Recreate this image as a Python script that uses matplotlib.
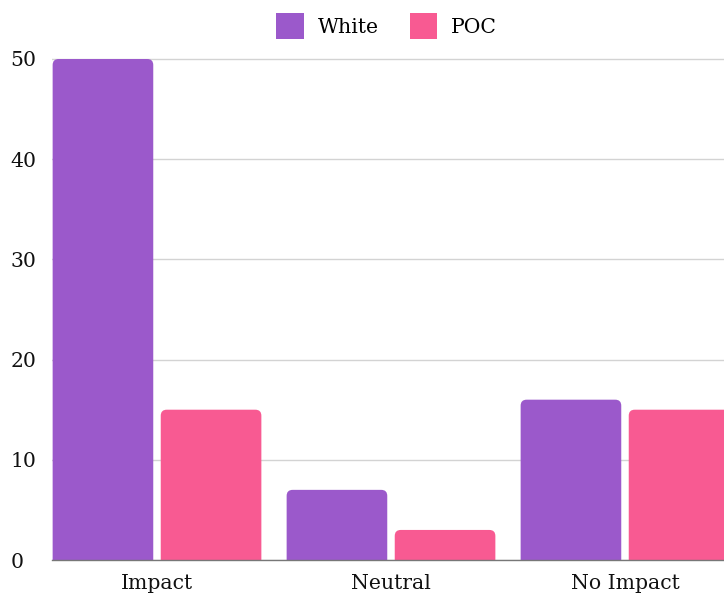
import matplotlib
matplotlib.use("Agg")
import matplotlib.pyplot as plt
from matplotlib.patches import FancyBboxPatch, Patch
import numpy as np

categories = ["Impact", "Neutral", "No Impact"]
white = [50, 7, 16]
poc = [15, 3, 15]
series_names = ["White", "POC"]
colors = ["#9b59cb", "#f85a92"]
yticks = [0, 10, 20, 30, 40, 50]

plt.rcParams['font.family'] = ['DejaVu Serif']

W, H = 724, 595
fig = plt.figure(figsize=(W / 100, H / 100), dpi=100)
left_px, right_px, bottom_px, top_px = 52, 724, 560, 58
ax = fig.add_axes([left_px / W, 1 - bottom_px / H, (right_px - left_px) / W, (bottom_px - top_px) / H])

px_per_x = 234.0
x_lo = (left_px - 157) / px_per_x
x_hi = (right_px - 157) / px_per_x
ymax = 50 * (bottom_px - top_px) / (bottom_px - 59)
ax.set_xlim(x_lo, x_hi)
ax.set_ylim(0, ymax)
px_per_y = (bottom_px - top_px) / ymax

x = np.arange(len(categories))
width = 0.43
offset = 0.231
radius_px = 6
r = radius_px / px_per_x
aspect = px_per_x / px_per_y

for vals, off, col in [(white, -offset, colors[0]), (poc, offset, colors[1])]:
    for xi, v in zip(x, vals):
        p = FancyBboxPatch((xi + off - width / 2, -2), width, v + 2,
                           boxstyle=f"round,pad=0,rounding_size={r}",
                           mutation_aspect=aspect, facecolor=col, edgecolor="none",
                           zorder=3)
        ax.add_patch(p)

fs = 14.7
ax.set_yticks(yticks)
ax.set_yticklabels([str(t) for t in yticks])
ax.yaxis.grid(True, color="#d3d3d3", linewidth=1, zorder=0)
ax.set_axisbelow(True)
ax.set_xticks(x)
ax.set_xticklabels(categories)
ax.tick_params(axis="both", length=0, labelsize=fs, colors="#111111")
ax.tick_params(axis="x", pad=10)
ax.tick_params(axis="y", pad=30)
for lab in ax.get_yticklabels():
    lab.set_ha("left")
for s in ["top", "right", "left"]:
    ax.spines[s].set_visible(False)
ax.spines["bottom"].set_color("#777777")
ax.spines["bottom"].set_linewidth(1.0)
ax.spines["bottom"].set_zorder(4)

handles = [Patch(facecolor=c, edgecolor="none") for c in colors]
fig.legend(handles, series_names, loc="center", bbox_to_anchor=(386.5 / W, 1 - 26 / H),
           ncol=2, frameon=False, fontsize=fs, handlelength=1.37, handleheight=1.55,
           handletextpad=0.64, columnspacing=1.52)

fig.savefig("out.png", dpi=100)
